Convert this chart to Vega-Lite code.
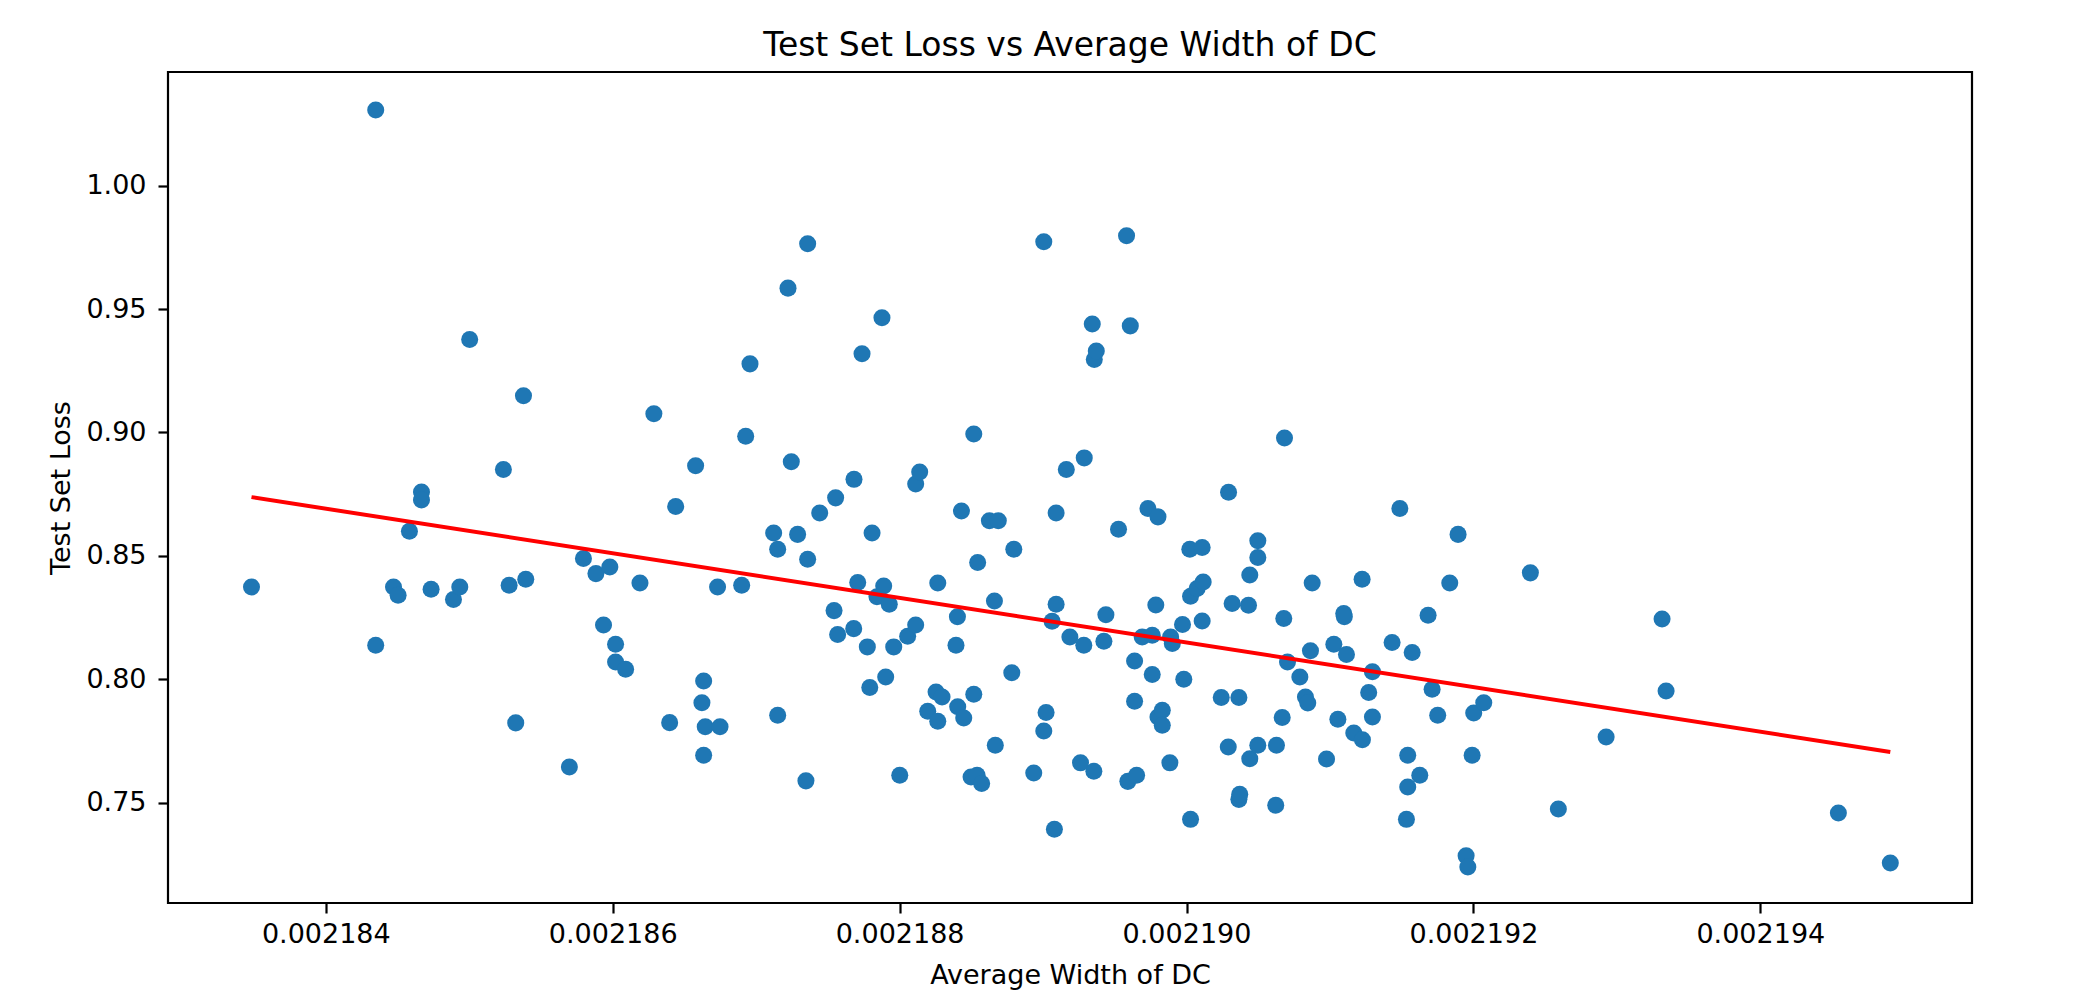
{
  "$schema": "https://vega.github.io/schema/vega-lite/v6.json",
  "autosize": {"type": "none"},
  "padding": {"left": 168, "top": 72, "right": 128, "bottom": 97},
  "width": 1804,
  "height": 831,
  "background": "white",
  "title": {"text": "Test Set Loss vs Average Width of DC", "font": "DejaVu Sans", "fontSize": 33, "fontWeight": "normal", "color": "#000", "baseline": "bottom", "offset": 10, "dy": 34, "anchor": "middle", "frame": "group"},
  "datasets": {
    "points": [
      {"width":0.002183482,"loss":0.8374},{"width":0.002184348,"loss":1.0307},{"width":0.002184348,"loss":0.8138},{"width":0.002184472,"loss":0.8374},{"width":0.002184504,"loss":0.8340},
      {"width":0.002184583,"loss":0.8600},{"width":0.002184667,"loss":0.8759},{"width":0.002184667,"loss":0.8726},{"width":0.002184734,"loss":0.8365},{"width":0.002184890,"loss":0.8323},
      {"width":0.002184934,"loss":0.8374},{"width":0.002185003,"loss":0.9377},{"width":0.002185238,"loss":0.8850},{"width":0.002185278,"loss":0.8381},{"width":0.002185324,"loss":0.7823},
      {"width":0.002185378,"loss":0.9149},{"width":0.002185394,"loss":0.8405},{"width":0.002185698,"loss":0.7644},{"width":0.002185796,"loss":0.8489},{"width":0.002185883,"loss":0.8428},
      {"width":0.002185936,"loss":0.8220},{"width":0.002185980,"loss":0.8455},{"width":0.002186020,"loss":0.8142},{"width":0.002186020,"loss":0.8070},{"width":0.002186090,"loss":0.8040},
      {"width":0.002186190,"loss":0.8390},{"width":0.002186287,"loss":0.9076},{"width":0.002186397,"loss":0.7824},{"width":0.002186439,"loss":0.8700},{"width":0.002186578,"loss":0.8865},
      {"width":0.002186622,"loss":0.7905},{"width":0.002186634,"loss":0.7993},{"width":0.002186634,"loss":0.7692},{"width":0.002186645,"loss":0.7807},{"width":0.002186731,"loss":0.8374},
      {"width":0.002186748,"loss":0.7807},{"width":0.002186899,"loss":0.8381},{"width":0.002186927,"loss":0.8985},{"width":0.002186957,"loss":0.9278},{"width":0.002187122,"loss":0.8593},
      {"width":0.002187150,"loss":0.8527},{"width":0.002187150,"loss":0.7854},{"width":0.002187222,"loss":0.9585},{"width":0.002187245,"loss":0.8881},{"width":0.002187289,"loss":0.8587},
      {"width":0.002187347,"loss":0.7588},{"width":0.002187359,"loss":0.9765},{"width":0.002187359,"loss":0.8486},{"width":0.002187443,"loss":0.8674},{"width":0.002187543,"loss":0.8278},
      {"width":0.002187554,"loss":0.8735},{"width":0.002187568,"loss":0.8181},{"width":0.002187680,"loss":0.8205},{"width":0.002187682,"loss":0.8810},{"width":0.002187708,"loss":0.8392},
      {"width":0.002187738,"loss":0.9319},{"width":0.002187775,"loss":0.8131},{"width":0.002187792,"loss":0.7966},{"width":0.002187808,"loss":0.8593},{"width":0.002187842,"loss":0.8334},
      {"width":0.002187877,"loss":0.9465},{"width":0.002187889,"loss":0.8378},{"width":0.002187903,"loss":0.8009},{"width":0.002187928,"loss":0.8304},{"width":0.002187959,"loss":0.8131},
      {"width":0.002188001,"loss":0.7611},{"width":0.002188056,"loss":0.8174},{"width":0.002188112,"loss":0.8220},{"width":0.002188112,"loss":0.8791},{"width":0.002188140,"loss":0.8840},
      {"width":0.002188196,"loss":0.7870},{"width":0.002188254,"loss":0.7948},{"width":0.002188266,"loss":0.8390},{"width":0.002188266,"loss":0.7830},{"width":0.002188296,"loss":0.7928},
      {"width":0.002188393,"loss":0.8138},{"width":0.002188403,"loss":0.8253},{"width":0.002188405,"loss":0.7888},{"width":0.002188431,"loss":0.8682},{"width":0.002188447,"loss":0.7843},
      {"width":0.002188498,"loss":0.7604},{"width":0.002188517,"loss":0.8994},{"width":0.002188517,"loss":0.7939},{"width":0.002188540,"loss":0.7611},{"width":0.002188544,"loss":0.8473},
      {"width":0.002188572,"loss":0.7577},{"width":0.002188626,"loss":0.8642},{"width":0.002188661,"loss":0.8317},{"width":0.002188667,"loss":0.7732},{"width":0.002188688,"loss":0.8642},
      {"width":0.002188782,"loss":0.8026},{"width":0.002188796,"loss":0.8527},{"width":0.002188935,"loss":0.7620},{"width":0.002189005,"loss":0.9773},{"width":0.002189005,"loss":0.7790},
      {"width":0.002189021,"loss":0.7865},{"width":0.002189063,"loss":0.8235},{"width":0.002189079,"loss":0.7392},{"width":0.002189091,"loss":0.8674},{"width":0.002189091,"loss":0.8304},
      {"width":0.002189162,"loss":0.8850},{"width":0.002189187,"loss":0.8171},{"width":0.002189261,"loss":0.7661},{"width":0.002189284,"loss":0.8138},{"width":0.002189287,"loss":0.8897},
      {"width":0.002189343,"loss":0.9440},{"width":0.002189354,"loss":0.7627},{"width":0.002189357,"loss":0.9296},{"width":0.002189371,"loss":0.9330},{"width":0.002189424,"loss":0.8154},
      {"width":0.002189438,"loss":0.8261},{"width":0.002189526,"loss":0.8608},{"width":0.002189582,"loss":0.9797},{"width":0.002189591,"loss":0.7586},{"width":0.002189608,"loss":0.9432},
      {"width":0.002189638,"loss":0.8074},{"width":0.002189638,"loss":0.7911},{"width":0.002189652,"loss":0.7611},{"width":0.002189691,"loss":0.8171},{"width":0.002189731,"loss":0.8692},
      {"width":0.002189761,"loss":0.8178},{"width":0.002189761,"loss":0.8019},{"width":0.002189786,"loss":0.8301},{"width":0.002189801,"loss":0.8658},{"width":0.002189801,"loss":0.7847},
      {"width":0.002189831,"loss":0.7874},{"width":0.002189831,"loss":0.7813},{"width":0.002189884,"loss":0.7661},{"width":0.002189889,"loss":0.8171},{"width":0.002189901,"loss":0.8145},
      {"width":0.002189972,"loss":0.8222},{"width":0.002189981,"loss":0.8000},{"width":0.002190023,"loss":0.8527},{"width":0.002190028,"loss":0.8336},{"width":0.002190028,"loss":0.7432},
      {"width":0.002190074,"loss":0.8368},{"width":0.002190109,"loss":0.8534},{"width":0.002190109,"loss":0.8236},{"width":0.002190116,"loss":0.8394},{"width":0.002190242,"loss":0.7926},
      {"width":0.002190291,"loss":0.7725},{"width":0.002190293,"loss":0.8758},{"width":0.002190318,"loss":0.8307},{"width":0.002190365,"loss":0.7926},{"width":0.002190365,"loss":0.7513},
      {"width":0.002190371,"loss":0.7534},{"width":0.002190432,"loss":0.8300},{"width":0.002190441,"loss":0.8422},{"width":0.002190441,"loss":0.7678},{"width":0.002190497,"loss":0.8561},
      {"width":0.002190497,"loss":0.8493},{"width":0.002190497,"loss":0.7732},{"width":0.002190622,"loss":0.7489},{"width":0.002190627,"loss":0.7732},{"width":0.002190667,"loss":0.7845},
      {"width":0.002190678,"loss":0.8246},{"width":0.002190683,"loss":0.8978},{"width":0.002190704,"loss":0.8070},{"width":0.002190790,"loss":0.8009},{"width":0.002190829,"loss":0.7928},
      {"width":0.002190845,"loss":0.7904},{"width":0.002190864,"loss":0.8115},{"width":0.002190876,"loss":0.8390},{"width":0.002190976,"loss":0.7677},{"width":0.002191027,"loss":0.8142},
      {"width":0.002191055,"loss":0.7838},{"width":0.002191096,"loss":0.8266},{"width":0.002191100,"loss":0.8253},{"width":0.002191115,"loss":0.8100},{"width":0.002191166,"loss":0.7782},
      {"width":0.002191224,"loss":0.8405},{"width":0.002191226,"loss":0.7755},{"width":0.002191270,"loss":0.7946},{"width":0.002191296,"loss":0.8030},{"width":0.002191296,"loss":0.7847},
      {"width":0.002191433,"loss":0.8149},{"width":0.002191487,"loss":0.8692},{"width":0.002191533,"loss":0.7432},{"width":0.002191542,"loss":0.7692},{"width":0.002191542,"loss":0.7563},
      {"width":0.002191573,"loss":0.8108},{"width":0.002191626,"loss":0.7611},{"width":0.002191684,"loss":0.8259},{"width":0.002191712,"loss":0.7959},{"width":0.002191751,"loss":0.7854},
      {"width":0.002191835,"loss":0.8390},{"width":0.002191893,"loss":0.8587},{"width":0.002191949,"loss":0.7284},{"width":0.002191961,"loss":0.7239},{"width":0.002191991,"loss":0.7692},
      {"width":0.002192002,"loss":0.7863},{"width":0.002192072,"loss":0.7905},{"width":0.002192397,"loss":0.8431},{"width":0.002192592,"loss":0.7474},{"width":0.002192925,"loss":0.7766},
      {"width":0.002193315,"loss":0.8244},{"width":0.002193343,"loss":0.7952},{"width":0.002194544,"loss":0.7458},{"width":0.002194906,"loss":0.7255}
    ],
    "fit": [
      {"width":0.002183482,"loss":0.8738},
      {"width":0.002194906,"loss":0.7705}
    ]
  },
  "encoding": {
    "x": {"field": "width", "type": "quantitative",
      "scale": {"domain": [0.0021829, 0.0021954755], "nice": false, "zero": false},
      "axis": {"title": "Average Width of DC", "values": [0.002184, 0.002186, 0.002188, 0.00219, 0.002192, 0.002194], "format": ".6f", "labelPadding": 8, "titlePadding": 15, "labelFlush": false, "labelOverlap": false}},
    "y": {"field": "loss", "type": "quantitative",
      "scale": {"domain": [0.7093, 1.0461], "nice": false, "zero": false},
      "axis": {"title": "Test Set Loss", "values": [0.75, 0.8, 0.85, 0.9, 0.95, 1.0], "format": ".2f", "labelPadding": 12, "titlePadding": 10, "labelFlush": false, "labelOverlap": false}}
  },
  "layer": [
    {"data": {"name": "points"}, "mark": {"type": "point", "shape": "circle", "filled": true, "size": 290, "color": "#1f77b4", "opacity": 1}},
    {"data": {"name": "fit"}, "mark": {"type": "line", "color": "#ff0000", "strokeWidth": 4}}
  ],
  "config": {
    "view": {"stroke": "#000", "strokeWidth": 2.2},
    "axis": {"domain": false, "grid": false, "tickColor": "#000", "tickWidth": 2.2, "tickSize": 10,
      "labelFont": "DejaVu Sans", "labelFontSize": 27, "labelColor": "#000",
      "titleFont": "DejaVu Sans", "titleFontSize": 27, "titleFontWeight": "normal", "titleColor": "#000"}
  }
}
